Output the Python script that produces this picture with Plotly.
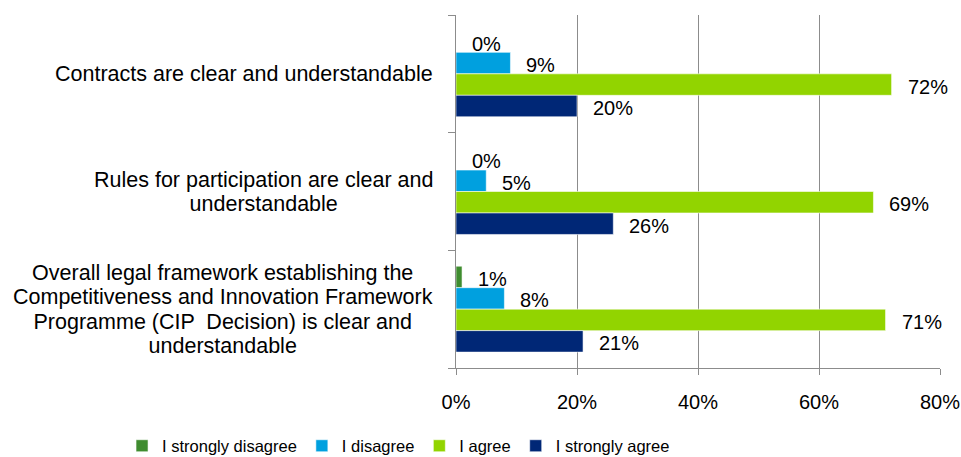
import plotly.graph_objects as go

# Survey statements (top to bottom) and answer shares in percent
categories = [
    "Contracts are clear and understandable",
    "Rules for participation are clear and understandable",
    "Overall legal framework establishing the Competitiveness and Innovation Framework Programme (CIP  Decision) is clear and understandable",
]
category_lines = [
    ["Contracts are clear and understandable"],
    ["Rules for participation are clear and", "understandable"],
    ["Overall legal framework establishing the",
     "Competitiveness and Innovation Framework",
     "Programme (CIP  Decision) is clear and",
     "understandable"],
]
series_names = ["I strongly disagree", "I disagree", "I agree", "I strongly agree"]
strongly_disagree = [0, 0, 1]
disagree = [9, 5, 8]
agree = [72, 69, 71]
strongly_agree = [20, 26, 21]
series_values = [strongly_disagree, disagree, agree, strongly_agree]
series_colors = ["#3F8C2F", "#00A0DF", "#92D400", "#002776"]

x_ticks = [0, 20, 40, 60, 80]

FONT = "Liberation Sans, Arial, sans-serif"
GREY = "#8C8C8C"
BARGAP = 0.27

y_pos = list(range(len(categories)))

fig = go.Figure()
for name, vals, col in zip(series_names, series_values, series_colors):
    fig.add_trace(go.Bar(
        name=name, x=vals, y=y_pos, orientation="h",
        marker=dict(color=col, line=dict(color="rgba(255,255,255,0.7)", width=0.8)),
        hoverinfo="x+name",
    ))

# value labels just right of each bar end
n = len(series_names)
bar_w = (1 - BARGAP) / n
annotations = []
for i, vals in enumerate(series_values):
    off = -(1 - BARGAP) / 2 + bar_w * (i + 0.5)
    for c, v in enumerate(vals):
        annotations.append(dict(
            x=v, y=y_pos[c] + off, xref="x", yref="y",
            text=f"{v}%", showarrow=False, xanchor="left", yanchor="middle",
            xshift=14, yshift=-2, font=dict(family=FONT, size=20, color="#000000"),
        ))

# category labels, centred multi-line blocks to the left of the axis
for c, lines in enumerate(category_lines):
    txt = "<br>".join(f"<span style='font-size:21.5px'>{ln}</span>" for ln in lines)
    annotations.append(dict(
        x=0, y=y_pos[c], xref="paper", yref="y", text=txt, showarrow=False,
        xanchor="right", yanchor="middle", align="center", xshift=-21,
        font=dict(family=FONT, size=18.8, color="#000000"),
    ))

fig.update_layout(
    width=961, height=457,
    margin=dict(l=456, r=21, t=15, b=89, autoexpand=False),
    paper_bgcolor="white", plot_bgcolor="white",
    barmode="group", bargap=BARGAP, bargroupgap=0,
    font=dict(family=FONT, color="#000000"),
    xaxis=dict(
        range=[0, 80], tickvals=x_ticks, ticktext=[f"{t}%" for t in x_ticks],
        showgrid=True, gridcolor=GREY, gridwidth=1,
        showline=True, linecolor=GREY, linewidth=1,
        ticks="outside", ticklen=6, tickcolor=GREY, ticklabelstandoff=10,
        tickfont=dict(family=FONT, size=20, color="#000000"),
        zeroline=False, automargin=False,
    ),
    yaxis=dict(
        range=[2.5, -0.5], tickvals=[-0.5, 0.5, 1.5, 2.5], ticktext=["", "", "", ""],
        showgrid=False, showline=True, linecolor=GREY, linewidth=1,
        ticks="outside", ticklen=7, tickcolor=GREY, zeroline=False, automargin=False,
    ),
    legend=dict(
        orientation="h", x=-0.69, xanchor="left", y=-0.221, yanchor="middle",
        font=dict(family=FONT, size=16.5, color="#000000"),
        bgcolor="rgba(0,0,0,0)", traceorder="normal",
    ),
    annotations=annotations,
    showlegend=True,
)

fig.write_html("out.html")
